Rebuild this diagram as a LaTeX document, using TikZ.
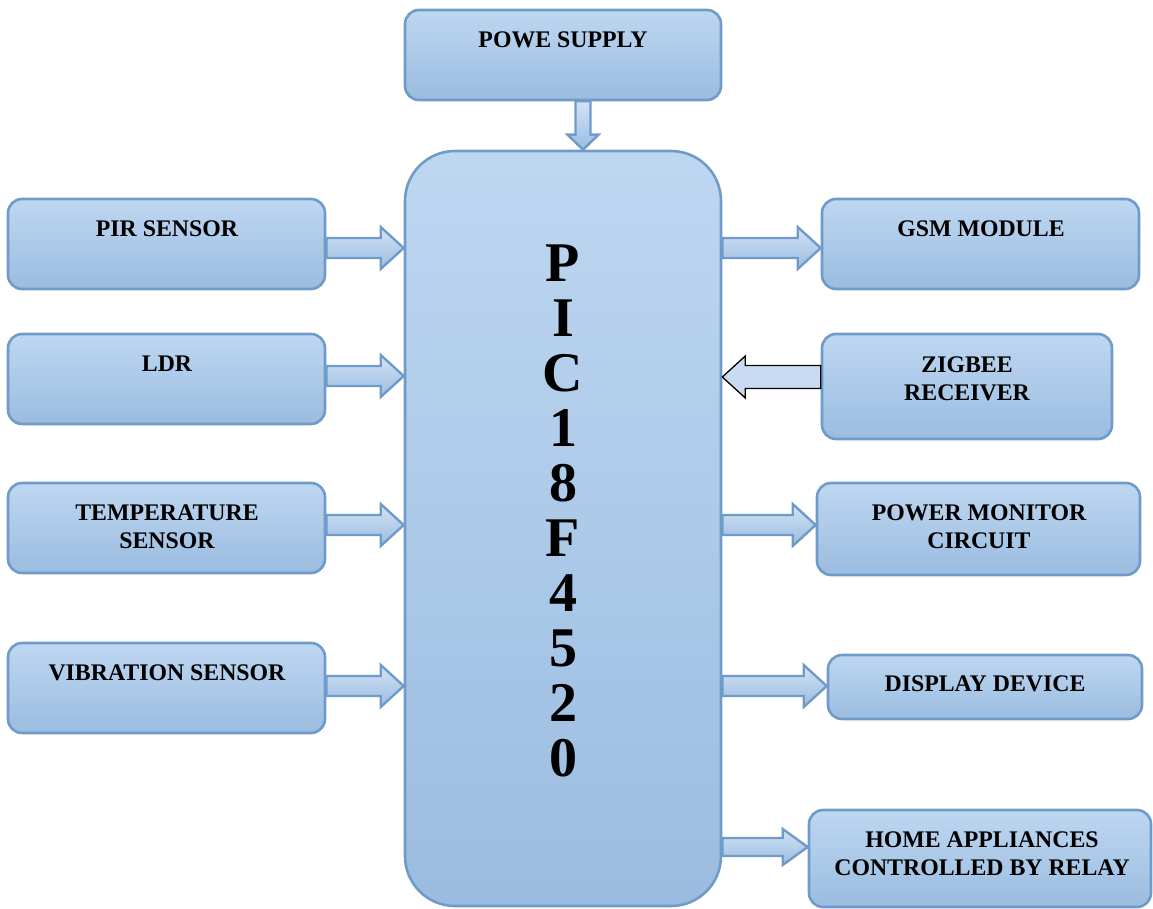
\documentclass[tikz,border=0pt]{standalone}
\usepackage{fontspec}
\setmainfont{Liberation Serif}
\usetikzlibrary{calc}
\definecolor{boxtop}{HTML}{BED7F1}
\definecolor{boxbot}{HTML}{9BBCE0}
\definecolor{boxline}{HTML}{6F9BC8}
\definecolor{arrfill}{HTML}{C9DBF2}
\tikzset{
  blk/.style={draw=boxline, line width=2.6pt, top color=boxtop, bottom color=boxbot, rounded corners=14pt, inner sep=0pt},
  lbl/.style={font=\fontsize{23.8}{28}\selectfont\bfseries, align=center, inner sep=0pt},
  barrow/.style={draw=boxline, line width=2.4pt, top color=boxtop!70!white, bottom color=boxbot, line join=miter},
  oarrow/.style={draw=black, line width=1.3pt, fill=arrfill, line join=miter},
}
\newcommand\boxat[6][]{%
  \node[blk,#1, minimum width={#4-#2}, minimum height={#5-#3}] (#6) at ({(#2+#4)/2},{(#3+#5)/2}) {};}
\newcommand\harrow[6][barrow]{%
  \draw[#1] let \p1=#2, \p2=#3, \n1={sign(\x2-\x1)*#6} in
  (\x1,\y1+#4) -- (\x2-\n1,\y1+#4) -- (\x2-\n1,\y1+#5) -- (\x2,\y1) -- (\x2-\n1,\y1-#5) -- (\x2-\n1,\y1-#4) -- (\x1,\y1-#4) -- cycle;}
\newcommand\varrow[6][barrow]{%
  \draw[#1] let \p1=#2, \p2=#3, \n1={sign(\y2-\y1)*#6} in
  (\x1+#4,\y1) -- (\x1+#4,\y2-\n1) -- (\x1+#5,\y2-\n1) -- (\x1,\y2) -- (\x1-#5,\y2-\n1) -- (\x1-#4,\y2-\n1) -- (\x1-#4,\y1) -- cycle;}
\begin{document}
\begin{tikzpicture}[x=1pt,y=-1pt]
\useasboundingbox (0,0) rectangle (1153,909);
% boxes
\boxat{405}{10}{721}{100}{ps}
\boxat[rounded corners=50pt]{405}{151}{721}{906}{pic}
\boxat{8}{199}{325}{289}{pir}
\boxat{8}{334}{325}{424}{ldr}
\boxat{8}{483}{325}{573}{temp}
\boxat{8}{643}{325}{733}{vib}
\boxat{822}{199}{1139}{289}{gsm}
\boxat{822}{334}{1112}{439}{zig}
\boxat{817}{483}{1140}{575}{pmc}
\boxat{828}{655}{1142}{719}{disp}
\boxat{809}{810}{1151}{907}{home}
% labels
\node[lbl] (psT) at (563,40) {POWE SUPPLY};
\node[lbl] (pirT) at (167,229) {PIR SENSOR};
\node[lbl] (ldrT) at (167,364) {LDR};
\node[lbl] (tempT) at (167,527) {TEMPERATURE\\SENSOR};
\node[lbl] (vibT) at (167,673) {VIBRATION SENSOR};
\node[lbl] (gsmT) at (981,229) {GSM MODULE};
\node[lbl] (zigT) at (967,379) {ZIGBEE\\RECEIVER};
\node[lbl] (pmcT) at (979,527) {POWER MONITOR\\CIRCUIT};
\node[lbl] (dispT) at (985,684) {DISPLAY DEVICE};
\node[lbl] (homeT) at (982,854) {HOME APPLIANCES\\CONTROLLED BY RELAY};
\node[font=\fontsize{56}{55}\selectfont\bfseries, align=center, inner sep=0pt] (picT) at (563,511) {P\\I\\C\\1\\8\\F\\4\\5\\2\\0};
% row coordinates
\coordinate (r1) at (0,248);
\coordinate (r2) at (0,376);
\coordinate (r3) at (0,525);
\coordinate (r4) at (0,686);
\coordinate (r5) at (0,847);
\coordinate (cz) at (0,377);
\coordinate (cv) at (583,0);
% arrows
\varrow{(ps.south -| cv)}{(pic.north -| cv)}{7.5}{15.5}{15}
\harrow{(pir.east |- r1)}{(pic.west |- r1)}{10}{21}{23}
\harrow{(ldr.east |- r2)}{(pic.west |- r2)}{10}{21}{23}
\harrow{(temp.east |- r3)}{(pic.west |- r3)}{10}{21}{23}
\harrow{(vib.east |- r4)}{(pic.west |- r4)}{10}{21}{23}
\harrow{(pic.east |- r1)}{(gsm.west |- r1)}{10}{21}{23}
\harrow[oarrow]{(zig.west |- cz)}{(pic.east |- cz)}{11.5}{21}{23}
\harrow{(pic.east |- r3)}{(pmc.west |- r3)}{10}{21}{23}
\harrow{(pic.east |- r4)}{(disp.west |- r4)}{10}{21}{23}
\harrow{(pic.east |- r5)}{(home.west |- r5)}{9}{18}{25}
\end{tikzpicture}
\end{document}
